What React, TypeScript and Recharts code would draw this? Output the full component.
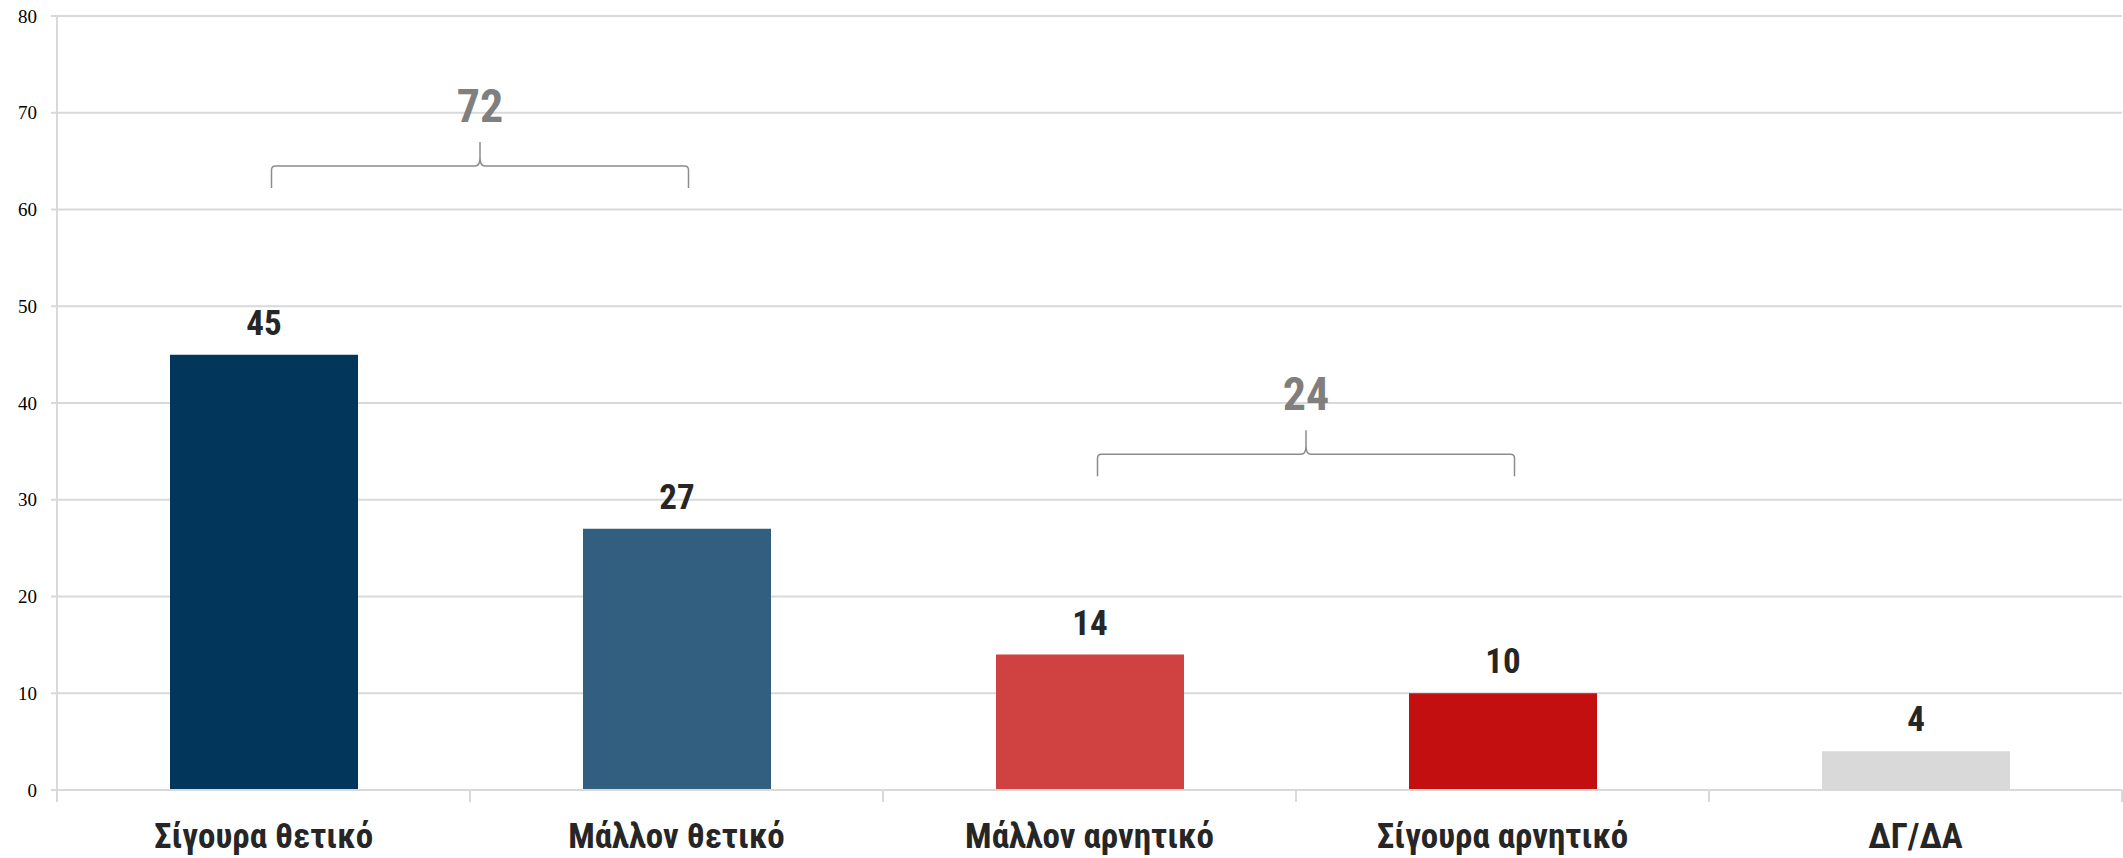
import { Bar, BarChart, CartesianGrid, Cell, LabelList, ReferenceLine, XAxis, YAxis } from "recharts"

const categories = ["Σίγουρα θετικό", "Μάλλον θετικό", "Μάλλον αρνητικό", "Σίγουρα αρνητικό", "ΔΓ/ΔΑ"]
const values = [45, 27, 14, 10, 4]
const colors = ["#02365a", "#325f7f", "#d04141", "#c30f0f", "#d9d9d9"]
const yTicks = [0, 10, 20, 30, 40, 50, 60, 70, 80]

// brackets drawn over pairs of bars, with their summed value
const groupFrom = ["Σίγουρα θετικό", "Μάλλον αρνητικό"]
const groupTo = ["Μάλλον θετικό", "Σίγουρα αρνητικό"]
const groupTotals = [72, 24]
const groupLevels = [64.5, 34.7]

const data = categories.map((name, i) => ({ name, value: values[i] }))

const labelFont = "'Liberation Sans Narrow', 'Roboto Condensed', 'DejaVu Sans Condensed', sans-serif"
const gridColor = "#d9d9d9"

function BottomTick(props: any) {
  const { x, y, payload, index } = props
  const half = payload.offset || 0
  const last = index === categories.length - 1
  return (
    <g>
      <line x1={x - half} x2={x - half} y1={y} y2={y + 12} stroke={gridColor} strokeWidth={2} />
      {last && <line x1={x + half} x2={x + half} y1={y} y2={y + 12} stroke={gridColor} strokeWidth={2} />}
      <text x={x} y={y + 58} textAnchor="middle" fill="#262626" fontFamily={labelFont} fontWeight={700} fontSize={35}>
        {payload.value}
      </text>
    </g>
  )
}

function Brace(total: number) {
  return (props: any) => {
    const { x1, x2, y1 } = props
    const left = x1 + 8
    const right = x2 + 12
    const mid = (left + right) / 2
    const y = y1
    const d = [
      `M${left},${y + 22}`,
      `L${left},${y + 4}`,
      `Q${left},${y} ${left + 4},${y}`,
      `L${mid - 5},${y}`,
      `Q${mid},${y} ${mid},${y - 8}`,
      `L${mid},${y - 24}`,
      `M${mid},${y - 8}`,
      `Q${mid},${y} ${mid + 5},${y}`,
      `L${right - 4},${y}`,
      `Q${right},${y} ${right},${y + 4}`,
      `L${right},${y + 22}`,
    ].join(" ")
    return (
      <g>
        <path d={d} fill="none" stroke="#8c8c8c" strokeWidth={1.5} />
        <text x={mid} y={y - 44} textAnchor="middle" fill="#7f7f7f" fontFamily={labelFont} fontWeight={700} fontSize={46}>
          {total}
        </text>
      </g>
    )
  }
}

export default function App() {
  return (
    <div style={{ position: "absolute", left: 0, top: 0 }}>
      <BarChart
        width={2123}
        height={858}
        data={data}
        margin={{ top: 16, right: 1, left: 0, bottom: 0 }}
        barSize={188}
      >
        <CartesianGrid vertical={false} stroke={gridColor} strokeWidth={2} />
        <XAxis
          dataKey="name"
          height={68}
          axisLine={{ stroke: gridColor, strokeWidth: 2 }}
          tickLine={false}
          tickSize={0}
          tickMargin={0}
          tick={<BottomTick />}
          interval={0}
        />
        <YAxis
          width={57}
          domain={[0, 80]}
          ticks={yTicks}
          axisLine={{ stroke: gridColor, strokeWidth: 2 }}
          tickLine={{ stroke: gridColor, strokeWidth: 2 }}
          tickSize={6}
          tickMargin={14}
          tick={{ fill: "#000", fontFamily: "'Liberation Serif', serif", fontSize: 19 }}
        />
        <Bar dataKey="value" isAnimationActive={false}>
          {data.map((d, i) => (
            <Cell key={d.name} fill={colors[i]} />
          ))}
          <LabelList
            dataKey="value"
            position="top"
            offset={20}
            fill="#262626"
            fontFamily={labelFont}
            fontWeight={700}
            fontSize={35}
          />
        </Bar>
        {groupTotals.map((total, i) => (
          <ReferenceLine
            key={total}
            segment={[
              { x: groupFrom[i], y: groupLevels[i] },
              { x: groupTo[i], y: groupLevels[i] },
            ]}
            shape={Brace(total)}
          />
        ))}
      </BarChart>
    </div>
  )
}
